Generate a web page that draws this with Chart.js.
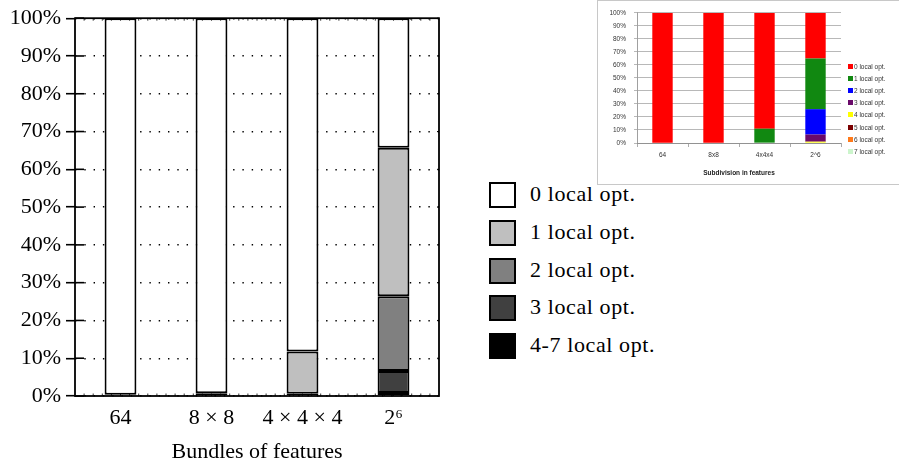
<!DOCTYPE html>
<html>
<head>
<meta charset="utf-8">
<script src="https://cdn.jsdelivr.net/npm/chart.js@4"></script>
<style>
  body { margin: 0; background: #fff; width: 899px; height: 466px; overflow: hidden; position: relative; }
  #mainBox { position: absolute; left: 0; top: 0; width: 460px; height: 466px; }
  #legend { position: absolute; left: 489px; top: 182px; font-family: "Liberation Serif", serif; font-size: 22px; letter-spacing: 0.6px; color: #000; }
  .row { position: absolute; left: 0; height: 26px; white-space: nowrap; }
  .sw { position: absolute; left: 0; top: 0; width: 27px; height: 26px; border: 2px solid #000; box-sizing: border-box; }
  .lbl { position: absolute; left: 41px; top: -1px; line-height: 26px; }
  #inset { position: absolute; left: 597px; top: 0; width: 310px; height: 183px; border: 1px solid #c8c8c8; background: #fff; }
  #insetBox { position: absolute; left: 0; top: 0; width: 302px; height: 183px; }
  #insetLegend { position: absolute; left: 250px; top: 62px; font-family: "Liberation Sans", sans-serif; font-size: 6.5px; color: #333; }
  .irow { position: absolute; left: 0; height: 7px; white-space: nowrap; }
  .isw { position: absolute; left: 0; top: 1px; width: 5px; height: 5px; }
  .ilbl { position: absolute; left: 6px; top: 0; line-height: 7px; }
</style>
</head>
<body>
<div id="mainBox"><canvas id="mainChart"></canvas></div>
<div id="legend"></div>
<div id="inset">
  <div id="insetBox"><canvas id="insetChart"></canvas></div>
  <div id="insetLegend"></div>
</div>
<script>
// data of the main chart (percent of runs)
const categories = ['64', '8 × 8', '4 × 4 × 4', '2⁶'];
const seriesNames = ['0 local opt.', '1 local opt.', '2 local opt.', '3 local opt.', '4-7 local opt.'];
const seriesColors = ['#ffffff', '#bfbfbf', '#808080', '#404040', '#000000'];
const opt0 = [99.7, 99.3, 88.2, 34.3];
const opt1 = [0, 0, 11.2, 39.3];
const opt2 = [0, 0, 0, 19.8];
const opt3 = [0, 0, 0, 5.8];
const opt4to7 = [0.3, 0.7, 0.6, 0.8];
const yTicks = [0, 10, 20, 30, 40, 50, 60, 70, 80, 90, 100];

// data of the small inset (spreadsheet version)
const insetCategories = ['64', '8x8', '4x4x4', '2^6'];
const insetNames = ['0 local opt.', '1 local opt.', '2 local opt.', '3 local opt.', '4 local opt.', '5 local opt.', '6 local opt.', '7 local opt.'];
const insetColors = ['#ff0000', '#118811', '#0000ff', '#6a0a6a', '#ffff00', '#7a0000', '#ff7a1a', '#ccf5cc'];
const inset0 = [100, 100, 89, 35];
const inset1 = [0, 0, 11, 39];
const inset2 = [0, 0, 0, 19.5];
const inset3 = [0, 0, 0, 5.5];
const inset4 = [0, 0, 0, 1];
const inset5 = [0, 0, 0, 0];
const inset6 = [0, 0, 0, 0];
const inset7 = [0, 0, 0, 0];

const serif = '"Liberation Serif", "Times New Roman", serif';

// frame, inner ticks and minor ticks like pgfplots
const framePlugin = {
  id: 'frame',
  afterDatasetsDraw(chart) {
    const { ctx, chartArea: a, scales } = chart;
    ctx.save();
    ctx.strokeStyle = '#000';
    ctx.lineWidth = 1.6;
    yTicks.forEach(v => {
      const y = scales.y.getPixelForValue(v);
      ctx.beginPath();
      ctx.moveTo(a.left, y);
      ctx.lineTo(a.left + 9, y);
      ctx.stroke();
      ctx.lineWidth = 1;
      ctx.beginPath();
      ctx.moveTo(a.right - 2, y);
      ctx.lineTo(a.right, y);
      ctx.stroke();
      ctx.lineWidth = 1.6;
    });
    ctx.lineWidth = 0.8;
    const n = 40;
    for (let i = 1; i < n; i++) {
      const x = a.left + (a.right - a.left) * i / n;
      ctx.beginPath();
      ctx.moveTo(x, a.bottom);
      ctx.lineTo(x, a.bottom - 2.5);
      ctx.moveTo(x, a.top);
      ctx.lineTo(x, a.top + 2.5);
      ctx.stroke();
    }
    ctx.lineWidth = 1.8;
    ctx.strokeRect(a.left, a.top, a.right - a.left, a.bottom - a.top);
    ctx.restore();
  }
};

const mainSeries = [opt0, opt1, opt2, opt3, opt4to7];
const mainDatasets = [];
for (let i = mainSeries.length - 1; i >= 0; i--) {
  mainDatasets.push({
    label: seriesNames[i],
    data: mainSeries[i],
    backgroundColor: seriesColors[i],
    borderColor: '#000',
    borderWidth: 2,
    borderSkipped: false,
    barPercentage: 0.35,
    categoryPercentage: 1
  });
}

new Chart(document.getElementById('mainChart'), {
  type: 'bar',
  data: { labels: categories, datasets: mainDatasets },
  options: {
    responsive: true,
    maintainAspectRatio: false,
    animation: false,
    layout: { padding: { top: 18, right: 21, left: 0, bottom: 0 } },
    plugins: { legend: { display: false }, tooltip: { enabled: false } },
    scales: {
      x: {
        stacked: true,
        grid: { display: false, drawTicks: false },
        border: { display: false },
        ticks: { color: '#000', font: { family: serif, size: 22 }, padding: 9 },
        title: { display: true, text: 'Bundles of features', color: '#000', font: { family: serif, size: 22 }, padding: { top: 0, bottom: 1 } },
        afterFit(scale) { scale.height = 70; }
      },
      y: {
        stacked: true,
        min: 0,
        max: 100,
        afterBuildTicks(scale) { scale.ticks = yTicks.map(v => ({ value: v })); },
        ticks: { color: '#000', font: { family: serif, size: 22 }, padding: 5, callback: v => v + '%' },
        grid: { color: '#000', lineWidth: 1.4, tickLength: 9, tickWidth: 1.6, tickColor: '#000', tickBorderDash: [] },
        border: { display: false, dash: [1.4, 7.9] },
        afterFit(scale) { scale.width = 75; }
      }
    }
  },
  plugins: [framePlugin]
});

// html legend of the main chart
const legend = document.getElementById('legend');
seriesNames.forEach((name, i) => {
  const row = document.createElement('div');
  row.className = 'row';
  row.style.top = (i * 37.8) + 'px';
  row.innerHTML = '<div class="sw" style="background:' + seriesColors[i] + '"></div><div class="lbl">' + name + '</div>';
  legend.appendChild(row);
});

// inset chart
const insetSeries = [inset0, inset1, inset2, inset3, inset4, inset5, inset6, inset7];
const insetDatasets = [];
for (let i = insetSeries.length - 1; i >= 0; i--) {
  insetDatasets.push({
    label: insetNames[i],
    data: insetSeries[i],
    backgroundColor: insetColors[i],
    borderWidth: 0,
    barPercentage: 0.4,
    categoryPercentage: 1
  });
}
const sans = '"Liberation Sans", Arial, sans-serif';

new Chart(document.getElementById('insetChart'), {
  type: 'bar',
  data: { labels: insetCategories, datasets: insetDatasets },
  options: {
    responsive: true,
    maintainAspectRatio: false,
    animation: false,
    layout: { padding: { top: 11, right: 59, left: 0, bottom: 0 } },
    plugins: { legend: { display: false }, tooltip: { enabled: false } },
    scales: {
      x: {
        stacked: true,
        grid: { display: true, drawOnChartArea: false, tickLength: 4, color: '#888', lineWidth: 0.7 },
        border: { color: '#888', width: 0.8 },
        ticks: { color: '#333', font: { family: sans, size: 6.5 }, padding: 4 },
        title: { display: true, text: 'Subdivision in features', color: '#222', font: { family: sans, size: 6.5, weight: 'bold' }, padding: { top: 0, bottom: 7 } },
        afterFit(scale) { scale.height = 41; }
      },
      y: {
        stacked: true,
        min: 0,
        max: 100,
        ticks: { stepSize: 10, color: '#333', font: { family: sans, size: 6.5 }, padding: 8, callback: v => v + '%' },
        grid: { color: '#9a9a9a', lineWidth: 0.7, tickLength: 3 },
        border: { color: '#888', width: 0.8 },
        afterFit(scale) { scale.width = 39; }
      }
    }
  }
});

// html legend of the inset
const insetLegend = document.getElementById('insetLegend');
insetNames.forEach((name, i) => {
  const row = document.createElement('div');
  row.className = 'irow';
  row.style.top = (i * 12.1) + 'px';
  row.innerHTML = '<div class="isw" style="background:' + insetColors[i] + '"></div><div class="lbl ilbl">' + name + '</div>';
  insetLegend.appendChild(row);
});
</script>
</body>
</html>
